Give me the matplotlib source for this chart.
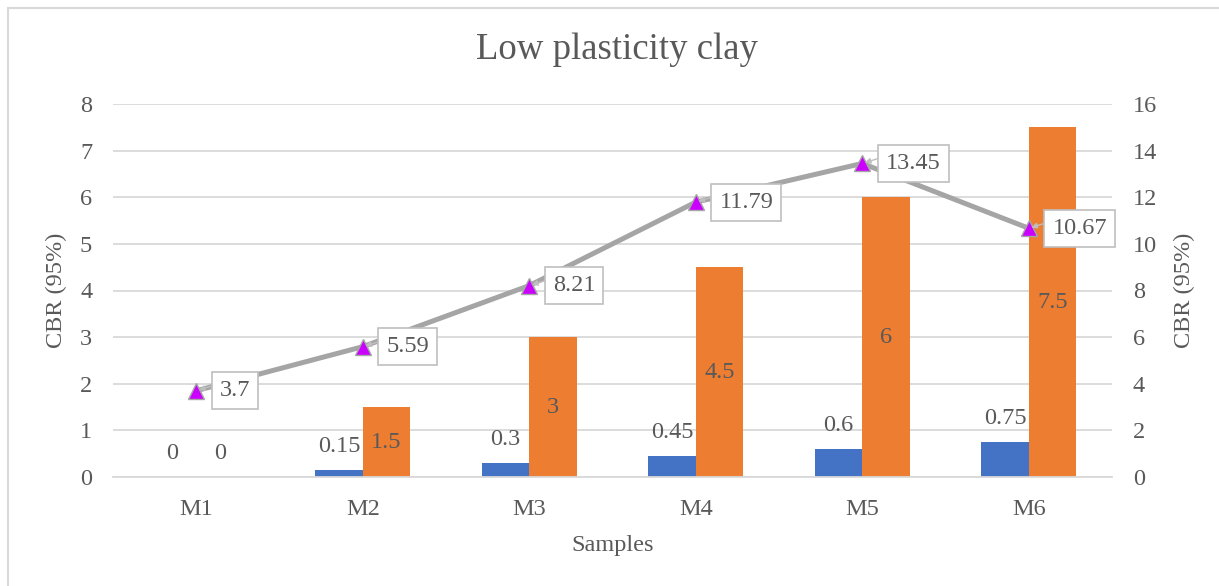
import matplotlib
matplotlib.use("Agg")
import matplotlib.pyplot as plt
import numpy as np
from matplotlib.patches import Rectangle

samples = ["M1", "M2", "M3", "M4", "M5", "M6"]
series_blue = [0, 0.15, 0.3, 0.45, 0.6, 0.75]
series_orange = [0, 1.5, 3, 4.5, 6, 7.5]
series_line = [3.7, 5.59, 8.21, 11.79, 13.45, 10.67]
left_ticks = [0, 1, 2, 3, 4, 5, 6, 7, 8]
right_ticks = [0, 2, 4, 6, 8, 10, 12, 14, 16]

plt.rcParams['font.family'] = ['Liberation Serif', 'DejaVu Serif']
TXT = '#595959'
GRID = '#D9D9D9'
FS = 17.5

fig = plt.figure(figsize=(12.19, 5.86), dpi=100)
ax = fig.add_axes([113/1219, 1-477/586, (1112-113)/1219, (477-104)/586])
ax2 = ax.twinx()

# figure border (left and top only visible)
fig.patches.append(Rectangle((8/1219, -0.2), 1.2, 1.2-8/586, transform=fig.transFigure,
                             fill=False, edgecolor='#D9D9D9', linewidth=1.5, zorder=0))

x = np.arange(len(samples))
w = 0.285
ax.bar(x - w/2, series_blue, w, color='#4472C4', zorder=2)
ax.bar(x + w/2, series_orange, w, color='#ED7D31', zorder=2)

for xi, v in zip(x - w/2, series_blue):
    ax.annotate(f"{v:g}", (xi, v), xytext=(0, 17), textcoords='offset points',
                ha='center', va='center', fontsize=FS, color=TXT, zorder=5)
for xi, v in zip(x + w/2, series_orange):
    if v == 0:
        ax.annotate(f"{v:g}", (xi, v), xytext=(0, 17), textcoords='offset points',
                    ha='center', va='center', fontsize=FS, color=TXT, zorder=5)
    else:
        ax.text(xi, v/2, f"{v:g}", ha='center', va='center', fontsize=FS, color=TXT, zorder=5)

ax.set_ylim(0, 8)
ax.set_yticks(left_ticks)
ax.set_xlim(-0.5, len(samples) - 0.5)
ax.set_xticks(x)
ax.set_xticklabels(samples)
ax.yaxis.grid(True, color=GRID, linewidth=1.3, zorder=0)
ax.set_axisbelow(True)
for s in ['top', 'right', 'left']:
    ax.spines[s].set_visible(False)
ax.spines['bottom'].set_color(GRID)
ax.spines['bottom'].set_linewidth(1.3)
ax.tick_params(axis='both', length=0, labelsize=FS, colors=TXT)
ax.tick_params(axis='y', pad=15)
ax.tick_params(axis='x', pad=16)
ax.set_ylabel("CBR (95%)", fontsize=FS, color=TXT, labelpad=9)
ax.set_xlabel("Samples", fontsize=FS, color=TXT, labelpad=11)

ax2.plot(x, series_line, color='#A5A5A5', linewidth=3.6, marker='^', markersize=11,
         markerfacecolor='#CC00FF', markeredgecolor='#A5A5A5', markeredgewidth=1, zorder=4)
ax2.set_ylim(0, 16)
ax2.set_yticks(right_ticks)
for s in ['top', 'right', 'left', 'bottom']:
    ax2.spines[s].set_visible(False)
ax2.tick_params(axis='y', length=0, labelsize=FS, colors=TXT, pad=15)
ax2.set_ylabel("CBR (95%)", fontsize=FS, color=TXT, labelpad=12)

for xi, v in zip(x, series_line):
    ax2.annotate(f"{v:g}", (xi, v), xytext=(17, 0), textcoords='offset points',
                 ha='left', va='center', fontsize=FS, color=TXT, zorder=6,
                 bbox=dict(boxstyle='square,pad=0.33', facecolor='white', edgecolor='#BFBFBF', linewidth=1.2),
                 arrowprops=dict(arrowstyle='-|>', color='#BFBFBF', lw=1, mutation_scale=8,
                                 relpos=(0, 0.85), shrinkA=0, shrinkB=2))

fig.text(617/1219, 1-50/586, "Low plasticity clay", ha='center', va='center',
         fontsize=26.5, color=TXT)

fig.savefig("out.png", dpi=100)
